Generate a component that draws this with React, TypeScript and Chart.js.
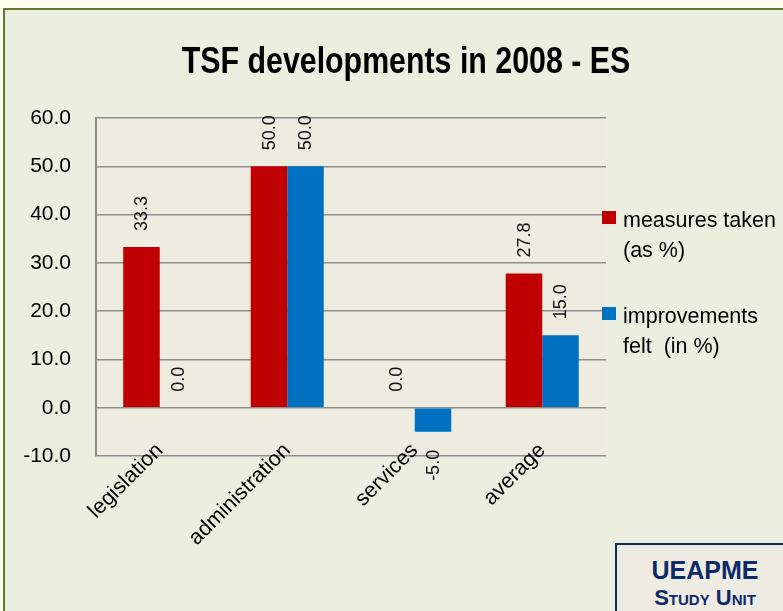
import React, { useEffect, useRef } from 'react';
import { Chart, registerables } from 'chart.js';

Chart.register(...registerables);

const titleText = 'TSF developments in 2008 - ES';
const categories = ['legislation', 'administration', 'services', 'average'];
const measuresTaken = [33.3, 50.0, 0.0, 27.8];
const improvementsFelt = [0.0, 50.0, -5.0, 15.0];
const seriesNames = ['measures taken (as %)', 'improvements felt  (in %)'];
const legendLines = [
  ['measures taken', '(as %)'],
  ['improvements', 'felt  (in %)'],
];
const seriesColors = ['#C00000', '#0070C0'];
const yMin = -10;
const yMax = 60;
const yStep = 10;

const FONT = "'Liberation Sans', Arial, sans-serif";

const plotBg = {
  id: 'plotBg',
  beforeDraw(chart: any) {
    const { ctx, chartArea } = chart;
    ctx.save();
    ctx.fillStyle = '#EEEBE1';
    ctx.fillRect(chartArea.left, chartArea.top, chartArea.right - chartArea.left, chartArea.bottom - chartArea.top);
    ctx.restore();
  },
};

// Title drawn as condensed bold text (Arial Narrow look)
const narrowTitle = {
  id: 'narrowTitle',
  afterDraw(chart: any, _args: any, opts: any) {
    const { ctx } = chart;
    ctx.save();
    ctx.font = `bold 37px ${FONT}`;
    ctx.fillStyle = '#000';
    ctx.textAlign = 'center';
    ctx.textBaseline = 'alphabetic';
    ctx.translate(opts.x, opts.y);
    ctx.scale(0.82, 1);
    ctx.fillText(opts.text, 0, 0);
    ctx.restore();
  },
};

const valueLabels = {
  id: 'valueLabels',
  afterDatasetsDraw(chart: any) {
    const { ctx } = chart;
    ctx.save();
    ctx.font = `18px ${FONT}`;
    ctx.fillStyle = '#111';
    chart.data.datasets.forEach((ds: any, di: number) => {
      const meta = chart.getDatasetMeta(di);
      meta.data.forEach((bar: any, i: number) => {
        const v = ds.data[i] as number;
        const text = v.toFixed(1);
        ctx.save();
        if (v >= 0) {
          ctx.translate(bar.x + 1, bar.y - 16);
          ctx.rotate(-Math.PI / 2);
          ctx.textAlign = 'left';
        } else {
          ctx.translate(bar.x + 1, bar.y + 18);
          ctx.rotate(-Math.PI / 2);
          ctx.textAlign = 'right';
        }
        ctx.textBaseline = 'middle';
        ctx.fillText(text, 0, 0);
        ctx.restore();
      });
    });
    ctx.restore();
  },
};

const sideLegend = {
  id: 'sideLegend',
  afterDraw(chart: any) {
    const { ctx, chartArea } = chart;
    ctx.save();
    ctx.font = `21.5px ${FONT}`;
    ctx.textAlign = 'left';
    ctx.textBaseline = 'alphabetic';
    chart.data.datasets.forEach((ds: any, di: number) => {
      const off = di * 96;
      ctx.fillStyle = ds.backgroundColor;
      ctx.fillRect(chartArea.right - 4, chartArea.top + 93 + off, 14, 13);
      ctx.fillStyle = '#000';
      legendLines[di].forEach((line, li) => {
        ctx.fillText(line, chartArea.right + 17, chartArea.top + 109 + off + li * 30);
      });
    });
    ctx.restore();
  },
};

export default function App() {
  const ref = useRef<HTMLCanvasElement | null>(null);

  useEffect(() => {
    if (!ref.current) return;
    const chart = new Chart(ref.current, {
      type: 'bar',
      data: {
        labels: categories,
        datasets: [
          {
            label: seriesNames[0],
            data: measuresTaken,
            backgroundColor: seriesColors[0],
            borderWidth: 0,
            categoryPercentage: 0.573,
            barPercentage: 1,
          },
          {
            label: seriesNames[1],
            data: improvementsFelt,
            backgroundColor: seriesColors[1],
            borderWidth: 0,
            categoryPercentage: 0.573,
            barPercentage: 1,
          },
        ],
      },
      options: {
        responsive: false,
        animation: false,
        devicePixelRatio: 1,
        layout: { padding: { left: 8, right: 0, top: 118, bottom: 0 } },
        plugins: {
          legend: { display: false },
          tooltip: { enabled: false },
          title: { display: false },
          narrowTitle: { text: titleText, x: 406, y: 73 },
        },
        scales: {
          x: {
            grid: { display: false },
            border: { display: false },
            ticks: {
              color: '#000',
              font: { family: FONT, size: 21.5 },
              minRotation: 45,
              maxRotation: 45,
              autoSkip: false,
              padding: -26,
            },
            afterFit(s: any) {
              s.height = 155;
              // let rotated labels reach up into the plot area, as in the original
              s._computeLabelArea = () => undefined;
            },
          },
          y: {
            min: yMin,
            max: yMax,
            grid: { color: '#8E8E8E', lineWidth: 1.5, drawTicks: false },
            border: { display: true, color: '#8E8E8E', width: 2 },
            ticks: {
              stepSize: yStep,
              color: '#000',
              font: { family: FONT, size: 21 },
              padding: 25,
              callback: (v: any) => Number(v).toFixed(1),
            },
            afterFit(s: any) {
              s.width = 88;
            },
          },
          legendSpace: {
            type: 'linear',
            position: 'right',
            display: true,
            grid: { display: false },
            border: { display: false },
            ticks: { display: false },
            afterFit(s: any) {
              s.width = 177;
            },
          },
        },
      } as any,
      plugins: [plotBg, valueLabels, sideLegend, narrowTitle],
    });
    return () => chart.destroy();
  }, []);

  return (
    <div style={{ position: 'fixed', left: 0, top: 0, width: 783, height: 611, background: '#FFFFF0', overflow: 'hidden' }}>
      <div
        style={{
          position: 'absolute',
          left: 3,
          top: 8,
          width: 820,
          height: 700,
          border: '2px solid #627A34',
          background: '#ECEEE0',
        }}
      />
      <canvas ref={ref} width={783} height={611} style={{ position: 'absolute', left: 0, top: 0 }} />
      <div
        style={{
          position: 'absolute',
          left: 615,
          top: 543,
          width: 180,
          height: 100,
          boxSizing: 'border-box',
          border: '2px solid #0C2864',
          background: '#EEECE2',
          color: '#0C2A66',
          fontFamily: FONT,
          fontWeight: 'bold',
          textAlign: 'center',
        }}
      >
        <div style={{ fontSize: 25, lineHeight: '25px', marginTop: 13 }}>UEAPME</div>
        <div style={{ fontSize: 22, lineHeight: '22px', marginTop: 4, fontVariant: 'small-caps' }}>Study Unit</div>
      </div>
    </div>
  );
}
